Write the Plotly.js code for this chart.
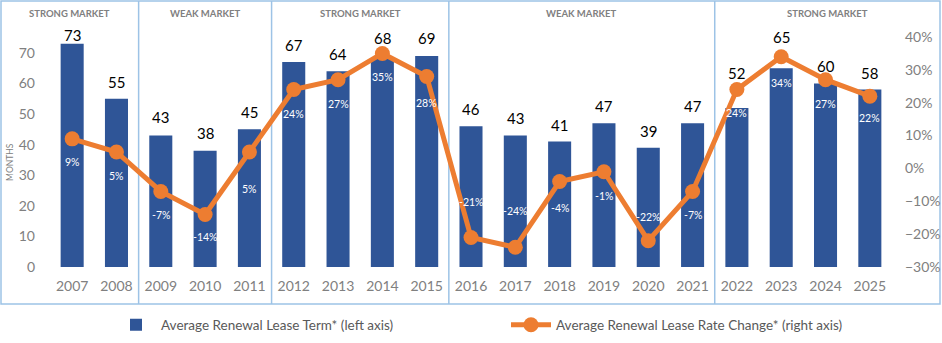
<!DOCTYPE html>
<html>
<head>
<meta charset="utf-8">
<script src="https://cdn.plot.ly/plotly-3.0.1.min.js"></script>
<style>html,body{margin:0;padding:0;background:#fff;}#chart{width:942px;height:343px;}</style>
</head>
<body>
<div id="chart"></div>
<script>
const years = ["2007","2008","2009","2010","2011","2012","2013","2014","2015","2016","2017","2018","2019","2020","2021","2022","2023","2024","2025"];
const leaseTerm = [73,55,43,38,45,67,64,68,69,46,43,41,47,39,47,52,65,60,58];
const rateChangePct = [9,5,-7,-14,5,24,27,35,28,-21,-24,-4,-1,-22,-7,24,34,27,22];
const marketPhases = ["STRONG MARKET","WEAK MARKET","STRONG MARKET","WEAK MARKET","STRONG MARKET"];
const phaseBoundaries = [2,5,9,15];

// label offsets in pixels (styling only)
const termLabelShift = [9,17,18,18,17,17,17,21,18,17,17,17,17,17,17,35,31,17,17];
const rateLabelShift = [-23,-24,-24,-23,-37,-24,-24,-24,-27,35,36,-26,-24,24,-24,-23,-26,-24,-22];

const FONT = "Lato, 'Open Sans', sans-serif";
const GREY = "#808080";
const BOX = "#9dc3e6";

const rateChange = rateChangePct.map(v => v / 100);

const barTrace = {
  type: "bar",
  x: years,
  y: leaseTerm,
  name: "Average Renewal Lease Term* (left axis)",
  marker: {color: "#2f5597"},
  width: 0.52,
  hoverinfo: "x+y"
};

const lineTrace = {
  type: "scatter",
  mode: "lines+markers",
  x: years,
  y: rateChange,
  yaxis: "y2",
  name: "Average Renewal Lease Rate Change* (right axis)",
  line: {color: "#ed7d31", width: 5},
  marker: {color: "#ed7d31", size: 15},
  cliponaxis: false
};

const plotL = 50, plotW = 842, plotB = 267, plotH = 230;
const px2x = p => (p - plotL) / plotW;
const px2y = p => (plotB - p) / plotH;
const boxX0 = px2x(1), boxX1 = px2x(940), boxY0 = px2y(304), boxY1 = px2y(1);

const shapes = [{
  type: "rect", xref: "paper", yref: "paper",
  x0: boxX0, x1: boxX1, y0: boxY0, y1: boxY1,
  line: {color: BOX, width: 1.5}, layer: "below"
}];
phaseBoundaries.forEach(k => {
  shapes.push({type: "line", xref: "paper", yref: "paper",
    x0: k / years.length, x1: k / years.length, y0: boxY0, y1: boxY1,
    line: {color: BOX, width: 1.5}, layer: "below"});
});

const edges = [boxX0].concat(phaseBoundaries.map(k => k / years.length)).concat([boxX1]);
const annotations = marketPhases.map((t, i) => ({
  xref: "paper", yref: "paper",
  x: (edges[i] + edges[i + 1]) / 2, y: px2y(14), xanchor: "center", yanchor: "middle",
  text: "<b>" + t + "</b>", showarrow: false,
  font: {family: FONT, size: 9.5, color: GREY}
}));
annotations.push({
  xref: "paper", yref: "paper", x: px2x(10), y: px2y(162), xanchor: "center", yanchor: "middle",
  text: "MONTHS", textangle: -90, showarrow: false,
  font: {family: FONT, size: 8.5, color: GREY}
});
// bar value labels (x given as category index)
years.forEach((yr, i) => {
  annotations.push({
    xref: "x", yref: "y", x: i, y: leaseTerm[i], xanchor: "center", yanchor: "middle",
    yshift: termLabelShift[i], text: String(leaseTerm[i]), showarrow: false,
    font: {family: FONT, size: 15, color: "#000"}
  });
});
// rate change labels
years.forEach((yr, i) => {
  annotations.push({
    xref: "x", yref: "y2", x: i, y: rateChange[i], xanchor: "center", yanchor: "middle",
    yshift: rateLabelShift[i], text: rateChangePct[i] + "%", showarrow: false,
    font: {family: FONT, size: 10.5, color: "#ffffff"}
  });
});

const layout = {
  width: 942, height: 343,
  margin: {l: plotL, r: 942 - plotL - plotW, t: 37, b: 343 - plotB, pad: 0, autoexpand: false},
  paper_bgcolor: "#fff", plot_bgcolor: "#fff",
  font: {family: FONT, color: GREY},
  bargap: 0.48,
  xaxis: {
    type: "category", range: [-0.5, years.length - 0.5], showgrid: false, zeroline: false, showline: false,
    ticks: "", tickfont: {size: 14, color: GREY}, ticklabelstandoff: 9, automargin: false
  },
  yaxis: {
    range: [0, 75.2], tickvals: [0,10,20,30,40,50,60,70],
    showgrid: false, zeroline: false, showline: false, ticks: "",
    tickfont: {size: 14, color: GREY}, ticklabelstandoff: 14, automargin: false
  },
  yaxis2: {
    overlaying: "y", side: "right", range: [-0.30, 0.40],
    tickvals: [-0.3,-0.2,-0.1,0,0.1,0.2,0.3,0.4], tickformat: ".0%",
    showgrid: false, zeroline: false, showline: false, ticks: "",
    tickfont: {size: 14, color: GREY}, ticklabelstandoff: 12, automargin: false
  },
  showlegend: true,
  legend: {
    orientation: "h", x: 0.5 + 35 / plotW, xanchor: "center", y: px2y(325), yanchor: "middle",
    font: {size: 13.5, color: "#595959", family: FONT},
    entrywidth: 340, itemwidth: 40, bgcolor: "rgba(0,0,0,0)"
  },
  shapes: shapes,
  annotations: annotations
};

Plotly.newPlot("chart", [barTrace, lineTrace], layout, {displayModeBar: false, responsive: false});
</script>
</body>
</html>
